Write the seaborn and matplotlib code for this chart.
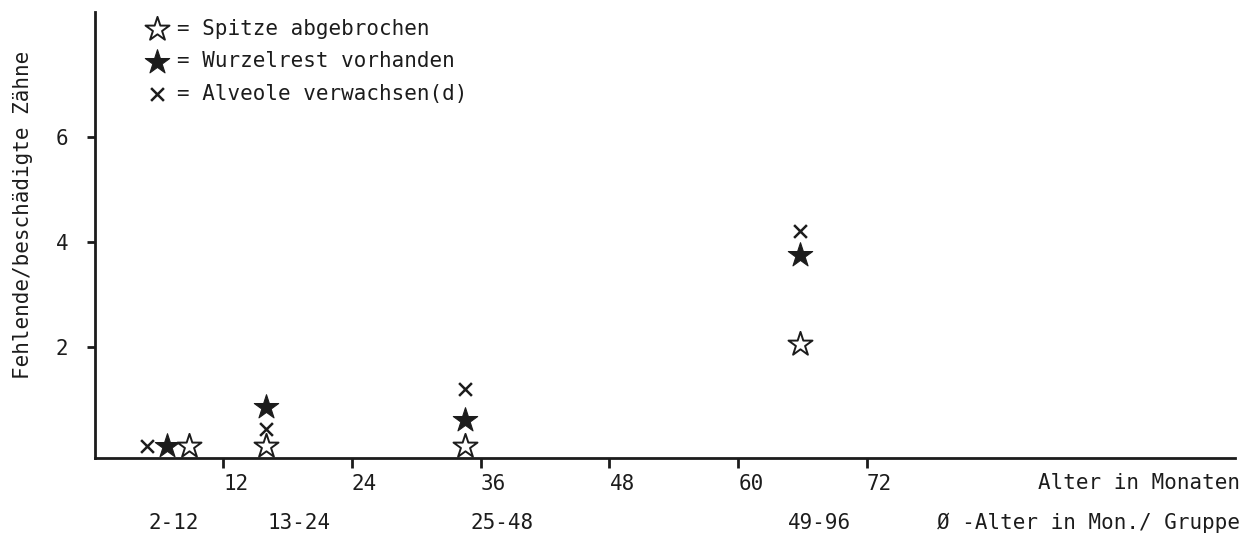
import matplotlib
matplotlib.use("Agg")
import matplotlib.pyplot as plt
import matplotlib.transforms as mtransforms
import seaborn as sns
import pandas as pd

# ---- data ----
age_spitze = [8.8, 16.0, 34.5, 65.8]
val_spitze = [0.1, 0.1, 0.1, 2.05]
age_wurzel = [6.8, 16.0, 34.5, 65.8]
val_wurzel = [0.1, 0.85, 0.6, 3.75]
age_alveole = [4.9, 16.0, 34.5, 65.8]
val_alveole = [0.1, 0.43, 1.2, 4.2]

group_labels = ["2-12", "13-24", "25-48", "49-96"]
group_label_x = [5.0, 16.1, 35.0, 64.6]

x_ticks = [12, 24, 36, 48, 60, 72]
y_ticks = [2, 4, 6]

legend_labels = ["= Spitze abgebrochen", "= Wurzelrest vorhanden", "= Alveole verwachsen(d)"]

# ---- style ----
sns.set_style("ticks")
plt.rcParams["font.family"] = ["DejaVu Sans Mono", "DejaVu Sans"]
ink = "#1c1c1c"
FS = 15

fig = plt.figure(figsize=(12.51, 5.37), dpi=100)
L, R, B, T = 94.5 / 1251, 1235 / 1251, 1 - 457.7 / 537, 1 - 12 / 537
ax = fig.add_axes([L, B, R - L, T - B])

df_w = pd.DataFrame({"age": age_wurzel, "val": val_wurzel})
df_s = pd.DataFrame({"age": age_spitze, "val": val_spitze})
df_a = pd.DataFrame({"age": age_alveole, "val": val_alveole})

sns.scatterplot(data=df_w, x="age", y="val", marker="*", s=340, color=ink,
                edgecolor=ink, linewidth=0.8, ax=ax, label=legend_labels[1], zorder=3)
sns.scatterplot(data=df_s, x="age", y="val", marker="*", s=330, facecolor="white",
                edgecolor=ink, linewidth=1.4, ax=ax, label=legend_labels[0], zorder=4)
sns.scatterplot(data=df_a, x="age", y="val", marker="x", s=85, color=ink,
                linewidth=1.8, ax=ax, label=legend_labels[2], zorder=3)

ax.set_xlim(0, 106.3)
ax.set_ylim(-0.114, 8.375)
ax.set_xticks(x_ticks)
ax.set_xticklabels([str(t) for t in x_ticks], ha="left")
ax.set_yticks(y_ticks)
ax.set_yticklabels([str(t) for t in y_ticks])
ax.tick_params(axis="x", length=7, width=2, pad=5, labelsize=FS, colors=ink)
ax.tick_params(axis="y", length=6, width=2, pad=13, labelsize=FS, colors=ink)

sns.despine(ax=ax)
for side in ["left", "bottom"]:
    ax.spines[side].set_linewidth(2)
    ax.spines[side].set_color(ink)

ax.set_xlabel("")
ax.set_ylabel("Fehlende/beschädigte Zähne", fontsize=FS, color=ink)
ax.yaxis.set_label_coords(-0.054, 0.5446)

# legend
handles, labels = ax.get_legend_handles_labels()
order = [labels.index(l) for l in legend_labels]
leg = ax.legend([handles[i] for i in order], [labels[i] for i in order],
                loc="upper left", bbox_to_anchor=(0.0457, 0.985),
                frameon=False, fontsize=FS, handlelength=1.0, handletextpad=0.45,
                labelspacing=0.6, borderpad=0, borderaxespad=0)
for t in leg.get_texts():
    t.set_color(ink)

# axis titles / group labels
fig.text(1240 / 1251, 1 - 483 / 537, "Alter in Monaten", ha="right", va="center",
         fontsize=FS, color=ink)
fig.text(1240 / 1251, 1 - 523 / 537, "Ø -Alter in Mon./ Gruppe", ha="right", va="center",
         fontsize=FS, color=ink)
trans = mtransforms.blended_transform_factory(ax.transData, fig.transFigure)
for gx, gl in zip(group_label_x, group_labels):
    ax.text(gx, 1 - 523 / 537, gl, transform=trans, ha="left", va="center",
            fontsize=FS, color=ink)

fig.savefig("out.png", dpi=100)
